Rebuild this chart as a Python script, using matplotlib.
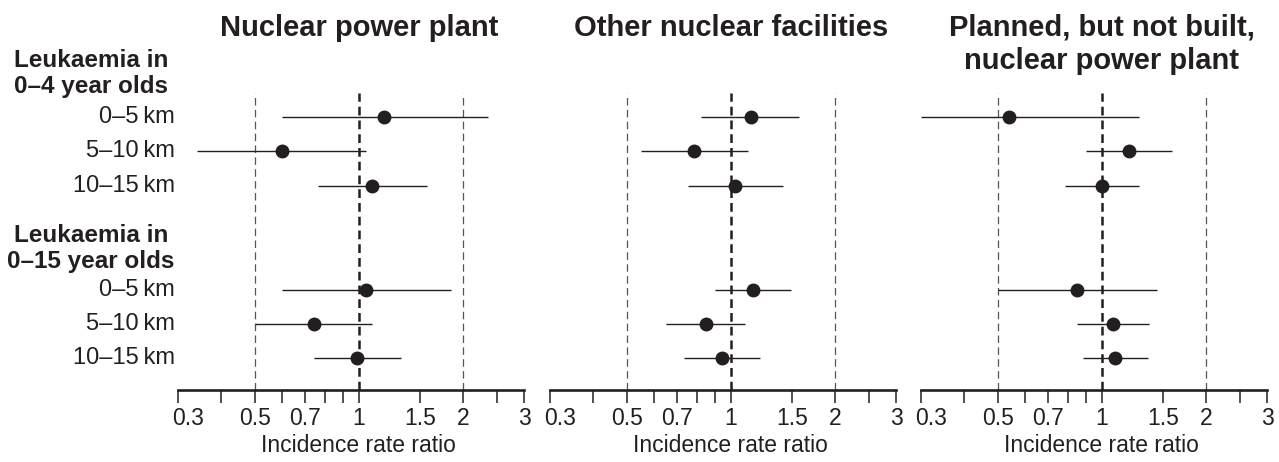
import matplotlib
matplotlib.use("Agg")
import matplotlib.pyplot as plt
import matplotlib.transforms as mtransforms
from matplotlib.ticker import FixedLocator, FixedFormatter, NullLocator

plt.rcParams['font.family'] = ['Liberation Sans', 'DejaVu Sans']

panels = ["Nuclear power plant", "Other nuclear facilities",
          "Planned, but not built,\nnuclear power plant"]
groups = ["Leukaemia in\n0\u20134 year olds", "Leukaemia in\n0\u201315 year olds"]
distances = ["0\u20135\u2009km", "5\u201310\u2009km", "10\u201315\u2009km"]

# per panel: [group1 rows..., group2 rows...]
irr = [
    [1.18, 0.60, 1.09, 1.05, 0.74, 0.99],
    [1.14, 0.78, 1.03, 1.16, 0.85, 0.94],
    [0.54, 1.20, 1.00, 0.85, 1.08, 1.09],
]
ci_low = [
    [0.60, 0.34, 0.76, 0.60, 0.50, 0.74],
    [0.82, 0.55, 0.75, 0.90, 0.65, 0.73],
    [0.30, 0.90, 0.78, 0.50, 0.85, 0.88],
]
ci_high = [
    [2.36, 1.05, 1.57, 1.85, 1.09, 1.32],
    [1.57, 1.12, 1.41, 1.49, 1.10, 1.21],
    [1.28, 1.59, 1.28, 1.44, 1.37, 1.36],
]

tick_vals = [0.3, 0.4, 0.5, 0.6, 0.7, 0.8, 0.9, 1, 1.5, 2, 2.5, 3]
tick_labels = ["0.3", "", "0.5", "", "0.7", "", "", "1", "1.5", "2", "", "3"]

W, H = 1279, 462
fig = plt.figure(figsize=(W / 100, H / 100), dpi=100)

ink = "#231f20"
lefts = [178, 550, 921]
ax_w = 346
ax_top, ax_bot = 93, 390

row_pos = [0, 1, 2, 5.05, 6.03, 7.03]
ylim = (7.96, -0.70)

axes = []
for i, name in enumerate(panels):
    ax = fig.add_axes([lefts[i] / W, (H - ax_bot) / H, ax_w / W, (ax_bot - ax_top) / H])
    axes.append(ax)
    ax.set_xscale("log")
    ax.set_xlim(0.3, 3)
    ax.set_ylim(*ylim)
    ax.xaxis.set_major_locator(FixedLocator(tick_vals))
    ax.xaxis.set_major_formatter(FixedFormatter(tick_labels))
    ax.xaxis.set_minor_locator(NullLocator())
    ax.set_yticks([])
    for s in ["top", "left", "right"]:
        ax.spines[s].set_visible(False)
    ax.spines["bottom"].set_linewidth(1.9)
    ax.spines["bottom"].set_color(ink)
    ax.tick_params(axis="x", direction="out", length=9, width=1.1, color=ink,
                   labelsize=16.5, pad=3.5, labelcolor=ink)

    # reference lines
    ax.axvline(0.5, color="#555555", lw=0.9, ls=(0, (6, 3.5)))
    ax.axvline(2, color="#555555", lw=0.9, ls=(0, (6, 3.5)))
    ax.axvline(1, color=ink, lw=1.8, ls=(0, (3.5, 2)))

    for j in range(6):
        ax.plot([ci_low[i][j], ci_high[i][j]], [row_pos[j], row_pos[j]],
                color=ink, lw=1.0, solid_capstyle="butt", zorder=3)
        ax.plot([irr[i][j]], [row_pos[j]], "o", color=ink, ms=9, zorder=4)

    # title centered on x = 1
    tr = mtransforms.blended_transform_factory(ax.transData, fig.transFigure)
    ax.text(1, 1 - 14 / H, name, transform=tr, ha="center", va="top",
            fontsize=21, fontweight="bold", color=ink, linespacing=1.22)
    ax.text(1, (H - 445) / H, "Incidence rate ratio", transform=tr,
            ha="center", va="center", fontsize=16.5, color=ink)

fig.canvas.draw()
# shift first tick label ("0.3") right so it clears the neighbour's "3"
for ax in axes:
    lab = ax.xaxis.get_majorticklabels()[0]
    lab.set_transform(lab.get_transform() +
                      mtransforms.ScaledTranslation(10 / 100, 0, fig.dpi_scale_trans))

# row labels and group headers
ax0 = axes[0]
trl = mtransforms.blended_transform_factory(fig.transFigure, ax0.transData)
for j in range(6):
    ax0.text(175 / W, row_pos[j], distances[j % 3], transform=trl,
             ha="right", va="center", fontsize=17, color=ink)
header_pos = [-1.27, 3.83]
for g, txt in enumerate(groups):
    ax0.text(91 / W, header_pos[g], txt, transform=trl, ha="center", va="center",
             multialignment="center", fontsize=17.5, fontweight="bold", color=ink,
             linespacing=1.15)

fig.savefig("out.png", dpi=100)
